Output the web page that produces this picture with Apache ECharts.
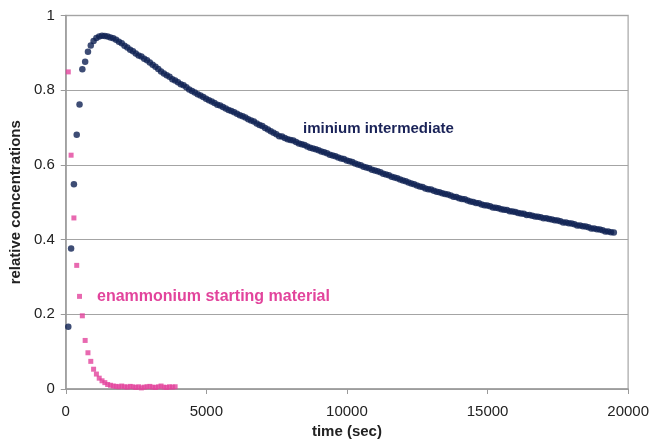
<!DOCTYPE html>
<html>
<head>
<meta charset="utf-8">
<script src="https://cdn.jsdelivr.net/npm/echarts@6/dist/echarts.min.js"></script>
<style>
html,body{margin:0;padding:0;background:#fff;}
#chart{width:652px;height:445px;}
</style>
</head>
<body>
<div id="chart"></div>
<script>
// Sampling grid (seconds)
var startTime = 90;
var timeStep = 100;

// iminium intermediate (navy circles)
var iminiumValues = [
0.167, 0.376, 0.548, 0.681, 0.762, 0.856, 0.876, 0.903, 0.920, 0.932,
0.940, 0.944, 0.946, 0.945, 0.944, 0.941, 0.939, 0.935, 0.930, 0.926,
0.919, 0.914, 0.908, 0.904, 0.898, 0.893, 0.890, 0.884, 0.880, 0.874,
0.868, 0.863, 0.857, 0.850, 0.845, 0.840, 0.836, 0.829, 0.826, 0.821,
0.816, 0.813, 0.808, 0.802, 0.798, 0.794, 0.789, 0.786, 0.782, 0.777,
0.773, 0.770, 0.766, 0.761, 0.759, 0.755, 0.751, 0.747, 0.744, 0.741,
0.737, 0.733, 0.730, 0.727, 0.722, 0.719, 0.716, 0.711, 0.707, 0.704,
0.699, 0.695, 0.690, 0.686, 0.682, 0.677, 0.676, 0.672, 0.669, 0.667,
0.665, 0.661, 0.657, 0.655, 0.653, 0.649, 0.646, 0.644, 0.642, 0.639,
0.636, 0.634, 0.631, 0.627, 0.625, 0.623, 0.620, 0.617, 0.616, 0.612,
0.610, 0.608, 0.604, 0.601, 0.599, 0.595, 0.593, 0.591, 0.587, 0.585,
0.583, 0.580, 0.576, 0.574, 0.572, 0.568, 0.566, 0.564, 0.561, 0.558,
0.556, 0.553, 0.550, 0.548, 0.545, 0.542, 0.541, 0.537, 0.535, 0.534,
0.531, 0.528, 0.527, 0.524, 0.522, 0.521, 0.518, 0.515, 0.514, 0.511,
0.509, 0.508, 0.505, 0.502, 0.501, 0.498, 0.497, 0.494, 0.492, 0.491,
0.489, 0.486, 0.485, 0.484, 0.481, 0.480, 0.479, 0.476, 0.475, 0.474,
0.471, 0.470, 0.469, 0.466, 0.466, 0.464, 0.462, 0.461, 0.460, 0.457,
0.457, 0.455, 0.454, 0.452, 0.451, 0.449, 0.446, 0.446, 0.444, 0.443,
0.441, 0.438, 0.438, 0.436, 0.435, 0.433, 0.430, 0.430, 0.428, 0.427,
0.425, 0.422, 0.422, 0.420, 0.419
];

// enammonium starting material (pink squares)
var enammoniumValues = [
0.849, 0.626, 0.458, 0.331, 0.248, 0.196, 0.130, 0.097, 0.074, 0.053,
0.040, 0.029, 0.022, 0.017, 0.012, 0.010, 0.008, 0.007, 0.006, 0.008,
0.006, 0.005, 0.007, 0.006, 0.004, 0.006, 0.003, 0.005, 0.006, 0.007,
0.005, 0.004, 0.006, 0.008, 0.005, 0.004, 0.006, 0.005, 0.006
];

var xTicks = [0, 5000, 10000, 15000, 20000];
var yTicks = [0, 0.2, 0.4, 0.6, 0.8, 1];

var seriesNames = ['iminium intermediate', 'enammonium starting material'];
var xAxisTitle = 'time (sec)';
var yAxisTitle = 'relative concentrations';

function toPairs(vals) {
  return vals.map(function (v, i) { return [startTime + timeStep * i, v]; });
}

var navy = '#0e2152';
var pink = '#e2449c';
var font = 'Liberation Sans';

var chart = echarts.init(document.getElementById('chart'), null, {renderer: 'canvas'});
chart.setOption({
  animation: false,
  backgroundColor: '#ffffff',
  grid: {left: 63.5, right: 21.5, top: 15.5, bottom: 56, show: true, borderColor: '#b8b8b8', borderWidth: 1.5, backgroundColor: 'transparent'},
  xAxis: {
    type: 'value', min: 0, max: 20000, interval: 5000,
    name: xAxisTitle, nameLocation: 'middle', nameGap: 30,
    nameTextStyle: {fontFamily: font, fontWeight: 'bold', fontSize: 15, color: '#222'},
    axisLine: {show: true, onZero: false, lineStyle: {color: '#9a9a9a', width: 1.5}},
    axisTick: {show: true, length: 5, lineStyle: {color: '#9a9a9a'}},
    axisLabel: {fontFamily: font, fontSize: 15, color: '#222', margin: 15,
      formatter: function (v) { return xTicks.indexOf(v) >= 0 ? String(v) : ''; }},
    splitLine: {show: false}
  },
  yAxis: {
    type: 'value', min: 0, max: 1, interval: 0.2,
    name: yAxisTitle, nameLocation: 'middle', nameGap: 37, nameRotate: 90,
    nameTextStyle: {fontFamily: font, fontWeight: 'bold', fontSize: 15, color: '#222'},
    axisLine: {show: true, lineStyle: {color: '#9a9a9a', width: 1.5}},
    axisTick: {show: true, length: 5, lineStyle: {color: '#9a9a9a'}},
    axisLabel: {fontFamily: font, fontSize: 15, color: '#222', margin: 11,
      formatter: function (v) { return String(Math.round(v * 10) / 10); }},
    splitLine: {show: true, lineStyle: {color: '#a4a4a4', width: 1.2}}
  },
  series: [
    {
      name: seriesNames[0], type: 'scatter', symbol: 'circle', symbolSize: 6.5,
      itemStyle: {color: navy},
      data: toPairs(iminiumValues), z: 3
    },
    {
      name: seriesNames[1], type: 'scatter', symbol: 'rect', symbolSize: 5,
      itemStyle: {color: pink},
      data: toPairs(enammoniumValues), z: 4
    }
  ],
  graphic: [
    {type: 'text', left: 303, top: 121, style: {text: seriesNames[0], fill: '#1a2358', font: 'bold 15px "Liberation Sans"'}},
    {type: 'text', left: 97, top: 289, style: {text: seriesNames[1], fill: pink, font: 'bold 16px "Liberation Sans"'}}
  ]
});
</script>
</body>
</html>
